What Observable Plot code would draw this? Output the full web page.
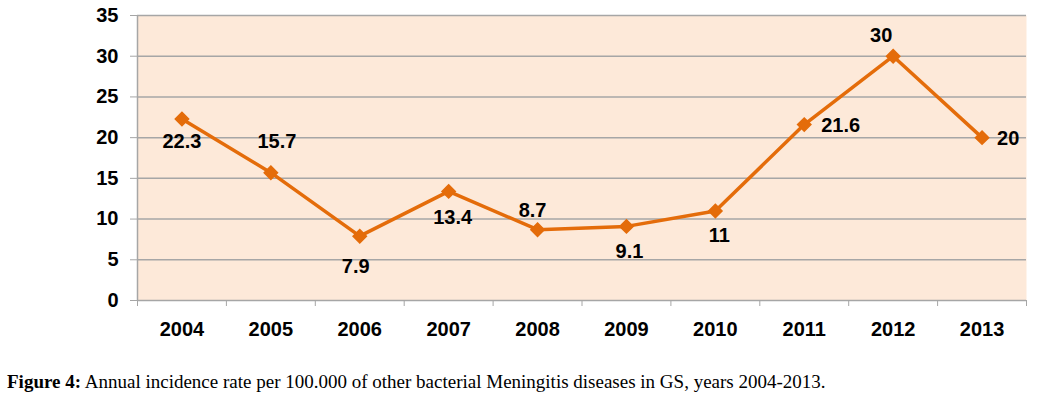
<!DOCTYPE html>
<html>
<head>
<meta charset="utf-8">
<script src="https://cdn.jsdelivr.net/npm/d3@7"></script>
<script src="https://cdn.jsdelivr.net/npm/@observablehq/plot@0.6"></script>
<style>
  html, body { margin: 0; padding: 0; background: #fff; }
  #chart { width: 1054px; height: 350px; }
  #caption { font-family: "Liberation Serif", "DejaVu Serif", serif; font-size: 19px; color: #000; margin: 21px 0 0 7px; white-space: nowrap; }
  #caption b { font-weight: bold; }
</style>
</head>
<body>
<div id="chart"></div>
<div id="caption"><b>Figure 4:</b> Annual incidence rate per 100.000 of other bacterial Meningitis diseases in GS, years 2004-2013.</div>
<script>
const years = [2004, 2005, 2006, 2007, 2008, 2009, 2010, 2011, 2012, 2013];
const rates = [22.3, 15.7, 7.9, 13.4, 8.7, 9.1, 11, 21.6, 30, 20];
const yTicks = [0, 5, 10, 15, 20, 25, 30, 35];

const data = years.map((year, i) => ({year, rate: rates[i]}));
const boundaries = [years[0] - 0.5, ...years.map(y => y + 0.5)];

// label placement (offsets in px) per year
const placement = {
  2004: {dx: 0, dy: 23, anchor: "middle"},
  2005: {dx: 6, dy: -31, anchor: "middle"},
  2006: {dx: -4, dy: 30, anchor: "middle"},
  2007: {dx: 4, dy: 26, anchor: "middle"},
  2008: {dx: -5, dy: -19, anchor: "middle"},
  2009: {dx: 3, dy: 25, anchor: "middle"},
  2010: {dx: 4, dy: 25, anchor: "middle"},
  2011: {dx: 17, dy: 1, anchor: "start"},
  2012: {dx: -12, dy: -21, anchor: "middle"},
  2013: {dx: 15, dy: 1, anchor: "start"}
};
const groups = {};
for (const d of data) {
  const p = placement[d.year];
  const key = `${p.dx}|${p.dy}|${p.anchor}`;
  (groups[key] ||= {p, rows: []}).rows.push(d);
}
const labelMarks = Object.values(groups).map(({p, rows}) =>
  Plot.text(rows, {x: "year", y: "rate", text: d => String(d.rate), dx: p.dx, dy: p.dy, textAnchor: p.anchor,
    fontSize: 20, fontWeight: "bold", fill: "#000"})
);

const font = "'Liberation Sans', Arial, sans-serif";
const lineColor = "#e46c0a";
const gray = "#a6a6a6";

const plot = Plot.plot({
  width: 1054,
  height: 350,
  marginLeft: 137,
  marginRight: 28,
  marginTop: 15,
  marginBottom: 50,
  style: {fontFamily: font, background: "#fff", overflow: "visible"},
  x: {type: "linear", domain: [years[0] - 0.5, years[years.length - 1] + 0.5]},
  y: {domain: [0, 35]},
  marks: [
    Plot.frame({fill: "#fde9d9", stroke: null}),
    Plot.ruleY(yTicks, {stroke: gray, strokeWidth: 1.5}),
    Plot.ruleX([boundaries[0]], {stroke: gray, strokeWidth: 1.5, y1: 0, y2: 35}),
    Plot.axisY({ticks: yTicks, tickSize: 7, tickPadding: 12, stroke: gray, tickFormat: d => String(d),
      fontSize: 20, fontWeight: "bold", fill: "#000", label: null}),
    Plot.axisX({ticks: boundaries, tickSize: 6, tickFormat: () => "", stroke: gray, label: null}),
    Plot.axisX({ticks: years, tickSize: 0, tickPadding: 21, tickFormat: d => String(d),
      fontSize: 20, fontWeight: "bold", fill: "#000", label: null}),
    Plot.line(data, {x: "year", y: "rate", stroke: lineColor, strokeWidth: 3.5}),
    Plot.dot(data, {x: "year", y: "rate", symbol: "diamond2", r: 6, fill: lineColor, stroke: lineColor}),
    ...labelMarks
  ]
});
document.getElementById("chart").appendChild(plot);
</script>
</body>
</html>
